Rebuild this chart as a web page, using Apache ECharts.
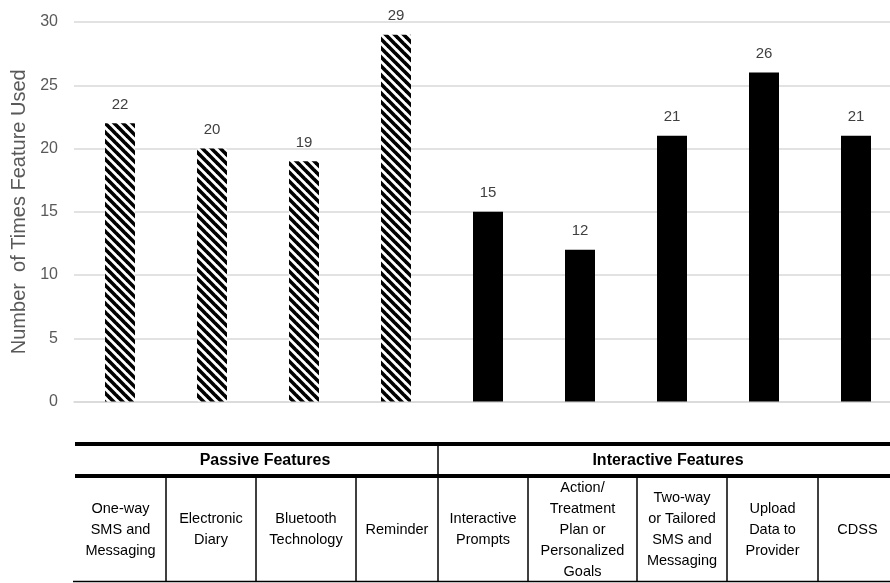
<!DOCTYPE html>
<html>
<head>
<meta charset="utf-8">
<script src="https://cdn.jsdelivr.net/npm/echarts@6/dist/echarts.min.js"></script>
<style>
  html, body { margin: 0; padding: 0; background: #fff; }
  #chart { width: 890px; height: 583px; }
</style>
</head>
<body>
<div id="chart"></div>
<script>
// Feature categories (table cell text, line breaks as drawn)
const categories = [
  'One-way\nSMS and\nMessaging',
  'Electronic\nDiary',
  'Bluetooth\nTechnology',
  'Reminder',
  'Interactive\nPrompts',
  'Action/\nTreatment\nPlan or\nPersonalized\nGoals',
  'Two-way\nor Tailored\nSMS and\nMessaging',
  'Upload\nData to\nProvider',
  'CDSS'
];
// Number of times each feature was used
const counts = [22, 20, 19, 29, 15, 12, 21, 26, 21];
// Feature group of each category
const featureGroup = ['passive', 'passive', 'passive', 'passive',
  'interactive', 'interactive', 'interactive', 'interactive', 'interactive'];
const groupTitles = ['Passive Features', 'Interactive Features'];
const yTicks = { min: 0, max: 30, step: 5 };
const yTitle = 'Number  of Times Feature Used';

// Diagonal hatch tile for the passive bars
function hatchPattern() {
  const s = 9;
  const c = document.createElement('canvas');
  c.width = s; c.height = s;
  const g = c.getContext('2d');
  g.fillStyle = '#fff';
  g.fillRect(0, 0, s, s);
  g.strokeStyle = '#000';
  g.lineWidth = 3.6;
  g.lineCap = 'square';
  [[0, 0, s, s], [s, 0, 2 * s, s], [-s, 0, 0, s]].forEach(([a, b, c2, d]) => {
    g.beginPath(); g.moveTo(a, b); g.lineTo(c2, d); g.stroke();
  });
  return c;
}
const hatch = { image: hatchPattern(), repeat: 'repeat' };

// Table layout below the plot
const colEdges = [75, 166, 256, 356, 438, 528, 637, 727, 818, 897];
const groupCenters = [265, 668];
const tableTop = 444, headerBottom = 476, tableBottom = 581.5, tableRight = 890;
const FONT = '"Liberation Sans", Arial, sans-serif';

const graphics = [];
// thick rules around the group header
[tableTop, headerBottom].forEach(y => graphics.push({
  type: 'line', silent: true,
  shape: { x1: colEdges[0], y1: y, x2: tableRight, y2: y },
  style: { stroke: '#000', lineWidth: 4 }
}));
// bottom rule
graphics.push({
  type: 'line', silent: true,
  shape: { x1: 73, y1: tableBottom, x2: tableRight, y2: tableBottom },
  style: { stroke: '#000', lineWidth: 1.5 }
});
// divider between groups in the header row
graphics.push({
  type: 'line', silent: true,
  shape: { x1: colEdges[4], y1: tableTop, x2: colEdges[4], y2: headerBottom },
  style: { stroke: '#000', lineWidth: 1.5 }
});
// column dividers in the label row
for (let i = 1; i < colEdges.length - 1; i++) {
  graphics.push({
    type: 'line', silent: true,
    shape: { x1: colEdges[i], y1: headerBottom, x2: colEdges[i], y2: tableBottom },
    style: { stroke: '#000', lineWidth: 1.5 }
  });
}
// group titles
groupTitles.forEach((t, i) => graphics.push({
  type: 'text', silent: true, x: groupCenters[i], y: (tableTop + headerBottom) / 2 + 1,
  style: { text: t, fontFamily: FONT, fontSize: 16, fontWeight: 'bold', fill: '#000',
           align: 'center', verticalAlign: 'middle' }
}));
// feature names
categories.forEach((t, i) => graphics.push({
  type: 'text', silent: true, x: (colEdges[i] + colEdges[i + 1]) / 2, y: (headerBottom + tableBottom) / 2 + 1,
  style: { text: t, fontFamily: FONT, fontSize: 14.5, fill: '#000', lineHeight: 21,
           align: 'center', verticalAlign: 'middle' }
}));

const chart = echarts.init(document.getElementById('chart'), null, { renderer: 'canvas' });
chart.setOption({
  animation: false,
  backgroundColor: '#fff',
  grid: { left: 74, top: 22, width: 828, height: 379.5, containLabel: false, outerBoundsMode: 'none' },
  xAxis: {
    type: 'category',
    data: categories,
    axisLine: { show: true, lineStyle: { color: '#d9d9d9', width: 1.5 } },
    axisTick: { show: false },
    axisLabel: { show: false },
    splitLine: { show: false }
  },
  yAxis: {
    type: 'value',
    min: yTicks.min, max: yTicks.max, interval: yTicks.step,
    name: yTitle,
    nameLocation: 'middle',
    nameRotate: 90,
    nameGap: 44,
    nameTextStyle: { fontFamily: FONT, fontSize: 20, color: '#595959' },
    axisLine: { show: false },
    axisTick: { show: false },
    axisLabel: { fontFamily: FONT, fontSize: 16, color: '#595959', margin: 16 },
    splitLine: { lineStyle: { color: '#d9d9d9', width: 1.5 } }
  },
  series: [{
    type: 'bar',
    barWidth: 30,
    data: counts.map((v, i) => ({
      value: v,
      itemStyle: { color: featureGroup[i] === 'passive' ? hatch : '#000' }
    })),
    label: {
      show: true, position: 'top', distance: 11,
      fontFamily: FONT, fontSize: 15, color: '#404040'
    }
  }],
  graphic: graphics
});
</script>
</body>
</html>
